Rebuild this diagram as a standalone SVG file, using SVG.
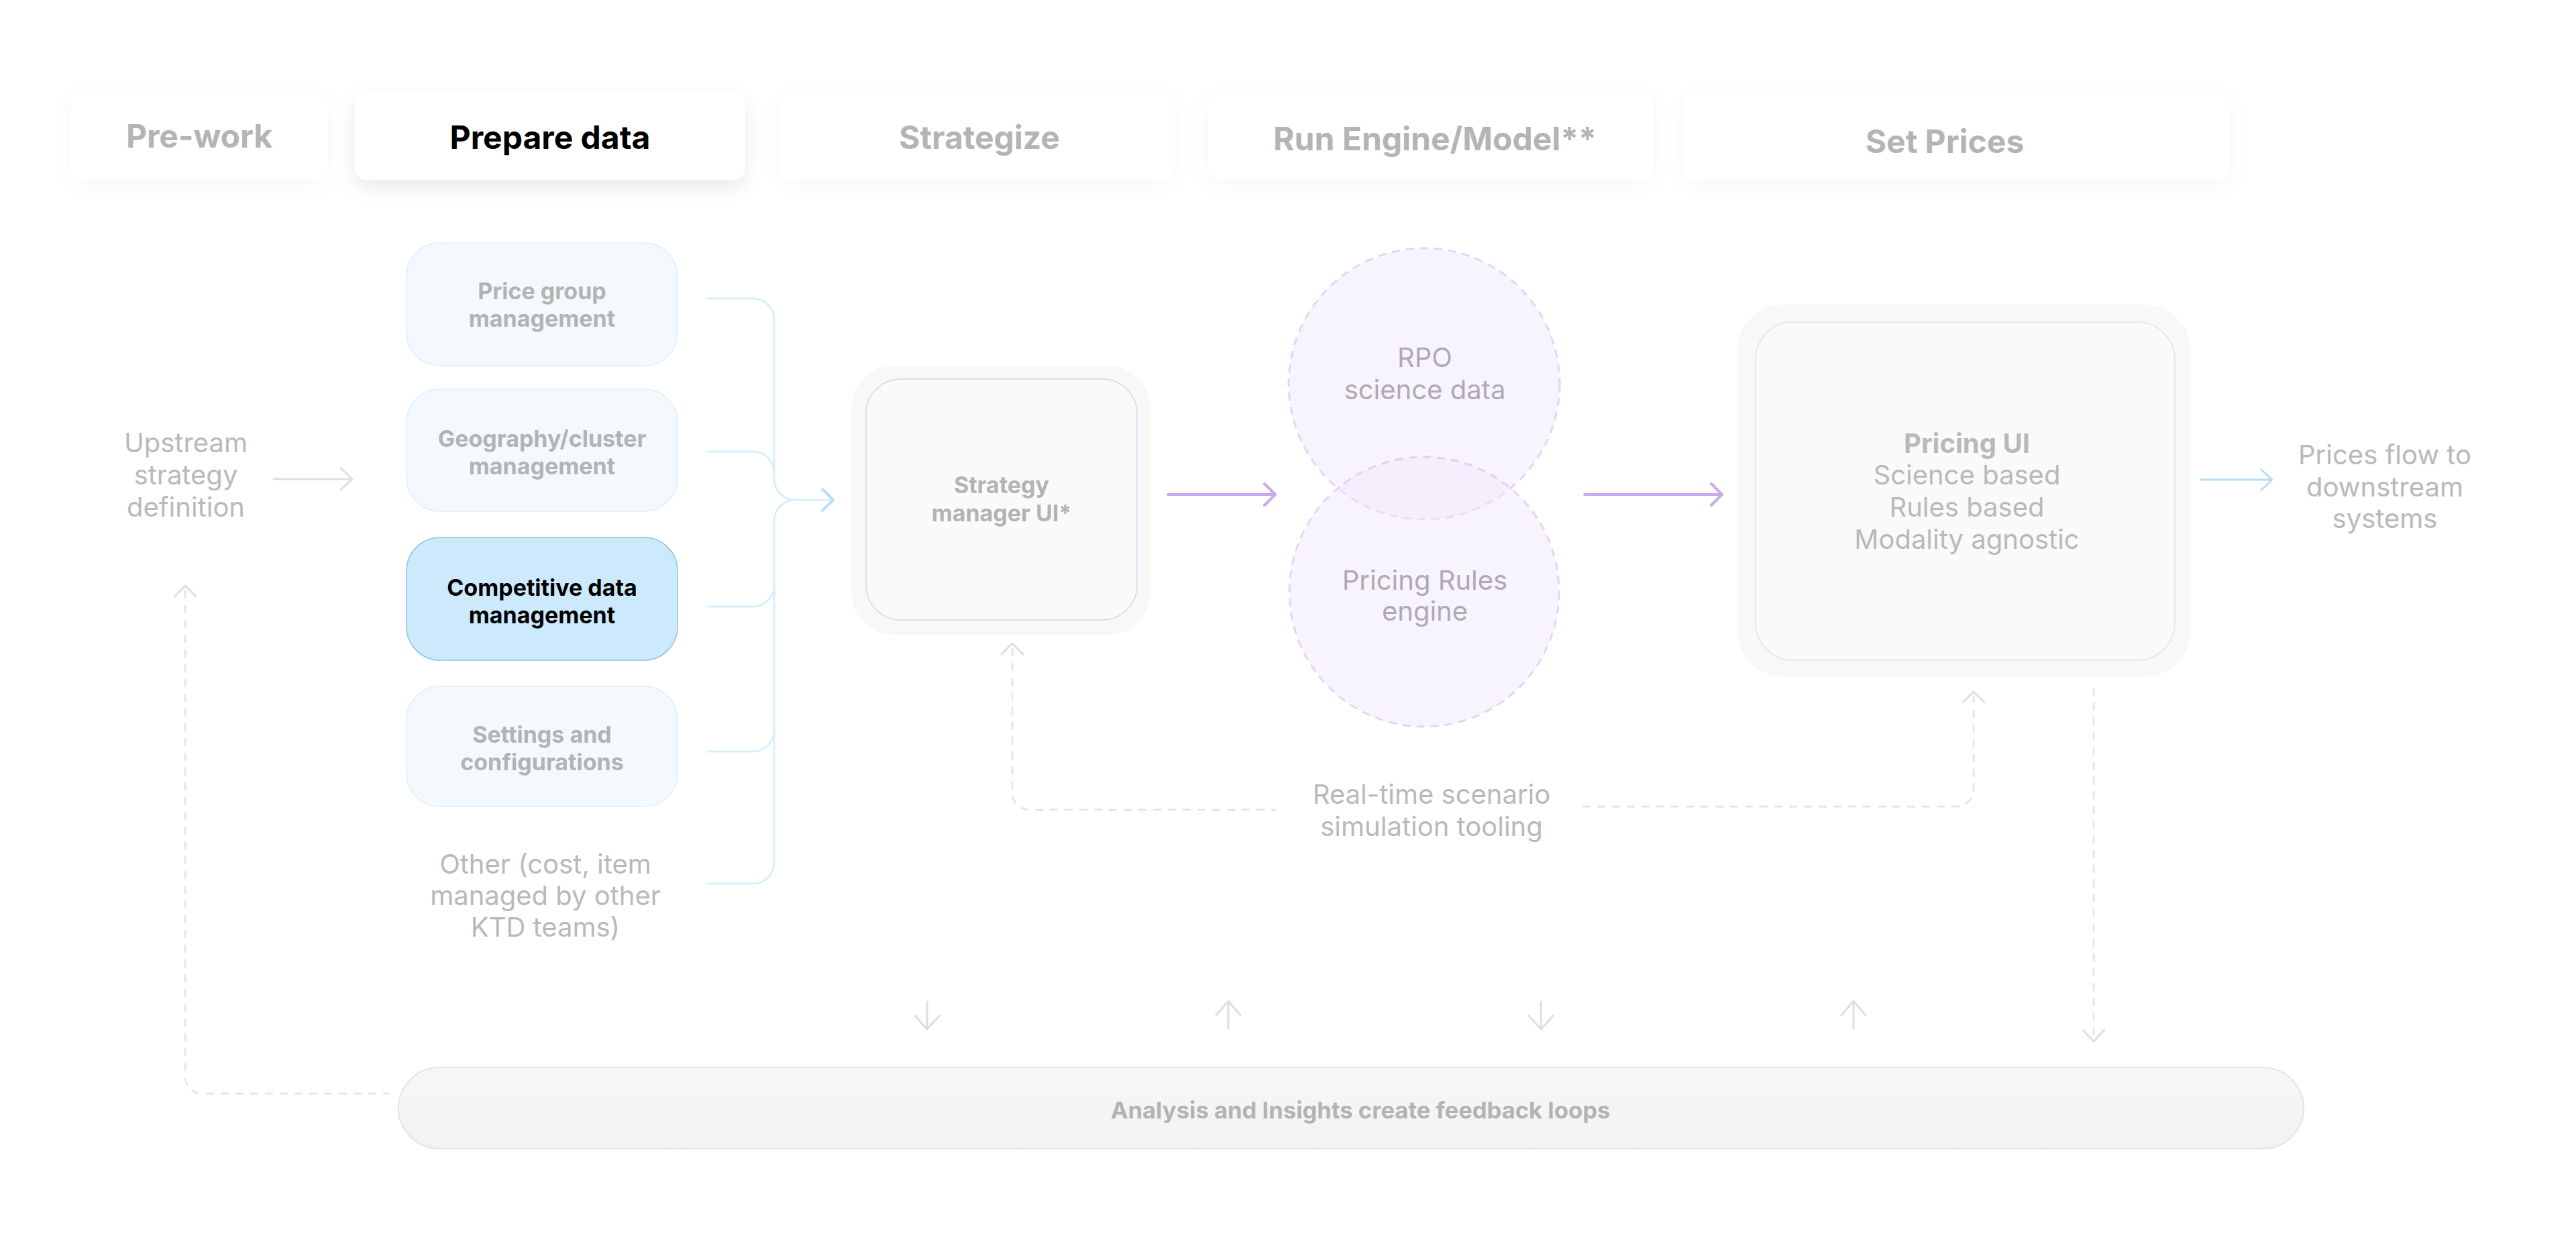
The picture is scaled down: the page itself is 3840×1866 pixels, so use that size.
<svg xmlns="http://www.w3.org/2000/svg" width="3840" height="1866" viewBox="0 0 3840 1866">
<defs>
<style>
.hdr{font-family:Inter,"Liberation Sans",sans-serif;font-weight:700;font-size:48px;fill:#b4b4b4;text-anchor:middle}
.hdr.on{fill:#000}
.hbox{fill:#fff}
.nb{font-family:Inter,"Liberation Sans",sans-serif;font-weight:700;font-size:34px;fill:#b3b3b3;text-anchor:middle}
.nb.on{fill:#000}
.rt{font-family:Inter,"Liberation Sans",sans-serif;font-weight:400;font-size:40px;fill:#b9b9b9;text-anchor:middle}
.ct{fill:#aea9b3}
.pbox{fill:#f4f9fe;stroke:#e3f0fb;stroke-width:2}
.blue{fill:none;stroke:#d9eefc;stroke-width:3;stroke-linecap:round}
.purp{fill:none;stroke:#c8abeb;stroke-width:4;stroke-linecap:round;stroke-linejoin:round}
.dash{fill:none;stroke:#e6e6e6;stroke-width:3;stroke-dasharray:12 10}
.gray{fill:none;stroke:#dedede;stroke-width:3;stroke-linecap:round;stroke-linejoin:round}
.circ{fill:rgba(240,230,253,0.45);stroke:rgba(205,175,240,0.5);stroke-width:3;stroke-dasharray:12 9}
</style>
<filter id="sh" x="-20%" y="-40%" width="140%" height="200%">
<feDropShadow dx="0" dy="10" stdDeviation="14" flood-color="#000" flood-opacity="0.09"/>
</filter>
<filter id="sh2" x="-20%" y="-40%" width="140%" height="200%">
<feDropShadow dx="0" dy="6" stdDeviation="14" flood-color="#000" flood-opacity="0.035"/>
</filter>
<linearGradient id="barg" x1="0" y1="0" x2="0" y2="1">
<stop offset="0" stop-color="#f7f7f7"/>
<stop offset="1" stop-color="#f2f2f2"/>
</linearGradient>
</defs>
<rect width="3840" height="1866" fill="#fff"/>

<g id="headers">
<g id="h-prework"><rect class="hbox" x="106" y="138" width="383" height="130" rx="18" filter="url(#sh2)"/><text class="hdr" x="297" y="220">Pre-work</text></g>
<g id="h-prepare"><rect class="hbox" x="529" y="138" width="582" height="130" rx="18" filter="url(#sh)"/><text class="hdr on" x="820" y="222">Prepare data</text></g>
<g id="h-strategize"><rect class="hbox" x="1163" y="138" width="588" height="130" rx="18" filter="url(#sh2)"/><text class="hdr" x="1460" y="222">Strategize</text></g>
<g id="h-run"><rect class="hbox" x="1801" y="138" width="665" height="130" rx="18" filter="url(#sh2)"/><text class="hdr" x="2139" y="224">Run Engine/Model**</text></g>
<g id="h-set"><rect class="hbox" x="2510" y="138" width="815" height="131" rx="18" filter="url(#sh2)"/><text class="hdr" x="2899" y="228">Set Prices</text></g>
</g>

<g id="connectors">
<path class="gray" d="M408 714 H524 M508 698 L525 714 L508 730"/>
<path class="blue" d="M1055 445 H1123 A31 31 0 0 1 1154 476 V714 A31 31 0 0 0 1185 745 H1241"/>
<path class="blue" d="M1055 673 H1123 A31 31 0 0 1 1154 704"/>
<path class="blue" d="M1055 904 H1123 A31 31 0 0 0 1154 873"/>
<path class="blue" d="M1055 1120 H1123 A31 31 0 0 0 1154 1089"/>
<path class="blue" d="M1055 1317 H1123 A31 31 0 0 0 1154 1286 V776 A31 31 0 0 1 1185 745"/>
<path fill="none" stroke="#b7dff8" stroke-width="4" stroke-linecap="round" stroke-linejoin="round" d="M1226 729 L1242 745 L1226 761"/>
<path class="purp" d="M1741 737 H1900 M1885 721 L1901 737 L1885 753"/>
<path class="purp" d="M2362 737 H2566 M2551 721 L2567 737 L2551 753"/>
<path fill="none" stroke="#b5defa" stroke-width="3" stroke-linecap="round" stroke-linejoin="round" d="M3281 715 H3386 M3371 700 L3387 715 L3371 730"/>
<path class="dash" d="M276 880 V1605 A25 25 0 0 0 301 1630 H580"/>
<path class="gray" d="M260 889 L276 873 L292 889" stroke="#e6e6e6"/>
<path class="dash" d="M1509 966 V1182 A25 25 0 0 0 1534 1207 H1903"/>
<path class="gray" d="M1493 975 L1509 959 L1525 975" stroke="#e6e6e6"/>
<path class="dash" d="M2359 1202 H2917 A25 25 0 0 0 2942 1177 V1038"/>
<path class="gray" d="M2926 1047 L2942 1031 L2958 1047" stroke="#e6e6e6"/>
<path class="dash" d="M3121 1025 V1548"/>
<path class="gray" d="M3105 1535 L3121 1552 L3137 1535" stroke="#e6e6e6"/>
<path class="gray" d="M1382 1493 V1533 M1364 1514 L1382 1534 L1400 1514"/>
<path class="gray" d="M1831 1493 V1533 M1813 1513 L1831 1492 L1849 1513"/>
<path class="gray" d="M2297 1493 V1533 M2279 1514 L2297 1534 L2315 1514"/>
<path class="gray" d="M2763 1493 V1533 M2745 1513 L2763 1492 L2781 1513"/>
</g>

<g id="upstream"><text class="rt" x="277" y="674">Upstream</text><text class="rt" x="277" y="722">strategy</text><text class="rt" x="277" y="770">definition</text></g>

<g id="n-pricegroup"><rect class="pbox" x="606" y="362" width="404" height="183" rx="50"/><text class="nb" x="808" y="446">Price group</text><text class="nb" x="808" y="487">management</text></g>
<g id="n-geo"><rect class="pbox" x="606" y="580" width="404" height="182" rx="50"/><text class="nb" x="808" y="666">Geography/cluster</text><text class="nb" x="808" y="707">management</text></g>
<g id="n-comp"><rect x="606" y="801" width="404" height="183" rx="50" fill="#cdeafc" stroke="#8cc3e4" stroke-width="1.5"/><text class="nb on" x="808" y="888">Competitive data</text><text class="nb on" x="808" y="929">management</text></g>
<g id="n-settings"><rect class="pbox" x="606" y="1023" width="404" height="179" rx="50"/><text class="nb" x="808" y="1107">Settings and</text><text class="nb" x="808" y="1148">configurations</text></g>
<g id="n-other"><text class="rt" x="813" y="1302">Other (cost, item</text><text class="rt" x="813" y="1349">managed by other</text><text class="rt" x="813" y="1396">KTD teams)</text></g>

<g id="n-strategy">
<rect x="1269" y="545" width="446" height="401" rx="64" fill="#f8f8f8"/>
<rect x="1291" y="565" width="404" height="359" rx="52" fill="#fafafa" stroke="#ddd0f0" stroke-width="1.5"/>
<text class="nb" x="1493" y="735">Strategy</text><text class="nb" x="1493" y="777">manager UI*</text>
</g>

<g id="n-rpo"><circle class="circ" cx="2123" cy="572" r="202"/><text class="rt ct" x="2124" y="547">RPO</text><text class="rt ct" x="2124" y="595">science data</text></g>
<g id="n-rules"><circle class="circ" cx="2123" cy="882" r="201"/><text class="rt ct" x="2124" y="879">Pricing Rules</text><text class="rt ct" x="2124" y="925">engine</text></g>

<g id="n-realtime"><text class="rt" x="2134" y="1198">Real-time scenario</text><text class="rt" x="2134" y="1246">simulation tooling</text></g>

<g id="n-pricingui">
<rect x="2589" y="454" width="677" height="555" rx="70" fill="#f8f8f8"/>
<rect x="2617" y="480" width="625" height="504" rx="56" fill="#fafafa" stroke="#d3e7f5" stroke-width="1.5"/>
<text class="rt" x="2932" y="675" style="font-weight:700">Pricing UI</text>
<text class="rt" x="2932" y="722">Science based</text>
<text class="rt" x="2932" y="770">Rules based</text>
<text class="rt" x="2932" y="818">Modality agnostic</text>
</g>

<g id="n-pricesflow"><text class="rt" x="3555" y="692">Prices flow to</text><text class="rt" x="3555" y="740">downstream</text><text class="rt" x="3555" y="787">systems</text></g>

<g id="n-analysis"><rect x="594" y="1591" width="2840" height="121" rx="60.5" fill="url(#barg)" stroke="#e4e4e4" stroke-width="2"/><text class="nb" x="2028" y="1667" style="font-size:34.6px">Analysis and Insights create feedback loops</text></g>
</svg>
